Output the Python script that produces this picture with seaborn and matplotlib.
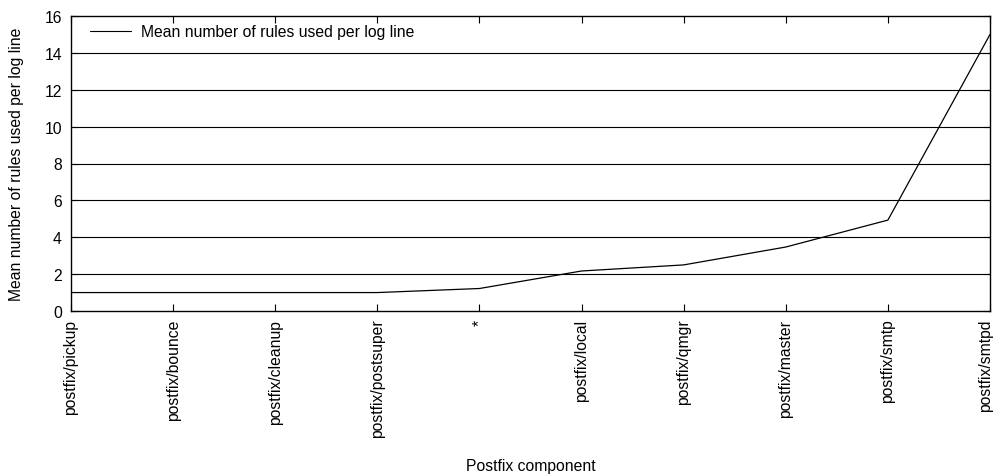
import matplotlib
matplotlib.use("Agg")
import matplotlib.pyplot as plt
import seaborn as sns
import pandas as pd

components = ["postfix/pickup", "postfix/bounce", "postfix/cleanup", "postfix/postsuper",
              "*", "postfix/local", "postfix/qmgr", "postfix/master", "postfix/smtp",
              "postfix/smtpd"]
mean_rules = [1.0, 1.0, 1.0, 1.0, 1.22, 2.17, 2.5, 3.47, 4.93, 15.0]
y_ticks = [0, 2, 4, 6, 8, 10, 12, 14, 16]

FS = 11.3

sns.set_theme(style="white")
plt.rcParams["font.family"] = ["Liberation Sans", "DejaVu Sans"]
plt.rcParams["font.size"] = FS
plt.rcParams["text.color"] = "black"
plt.rcParams["axes.labelcolor"] = "black"
plt.rcParams["xtick.color"] = "black"
plt.rcParams["ytick.color"] = "black"

df = pd.DataFrame({"component": components, "mean": mean_rules})
df["pos"] = range(len(df))

fig = plt.figure(figsize=(9.94, 4.77), dpi=100)
ax = fig.add_axes([71 / 994, 1 - 312 / 477, (990 - 71) / 994, (312 - 17) / 477])

sns.lineplot(data=df, x="pos", y="mean", ax=ax, color="black", linewidth=0.9,
             label="Mean number of rules used per log line", sort=False)

ax.set_xlim(0, len(components) - 1)
ax.set_ylim(0, 16)
ax.set_yticks(y_ticks)
ax.set_xticks(df["pos"])
# last label is drawn separately, nudged left so it stays inside the canvas
ax.set_xticklabels(components[:-1] + [""], rotation=90, ha="center", va="top")
ax.annotate(components[-1], xy=(len(components) - 1, 0),
            xycoords=("data", "axes fraction"), xytext=(-3, -5.5),
            textcoords="offset points", rotation=90, ha="center", va="top",
            fontsize=FS, color="black", annotation_clip=False)

for y in y_ticks[1:-1]:
    ax.axhline(y, color="black", linewidth=0.8, zorder=0)

for s in ax.spines.values():
    s.set_color("black")
    s.set_linewidth(1.0)

ax.tick_params(axis="x", direction="in", length=5, width=0.8, top=True, bottom=True,
               pad=5.5, labelsize=FS, colors="black")
ax.tick_params(axis="y", direction="in", length=5, width=0.8, left=True, right=True,
               pad=6.5, labelsize=FS, colors="black")

ax.set_xlabel("Postfix component", fontsize=FS, color="black")
ax.xaxis.set_label_coords(0.5, -(467 - 312) / 295, transform=ax.transAxes)
ax.xaxis.label.set_va("center")
ax.set_ylabel("Mean number of rules used per log line", fontsize=FS, color="black")
ax.yaxis.set_label_coords(-(71 - 17) / 919, 0.5, transform=ax.transAxes)
ax.yaxis.label.set_va("center")

leg = ax.legend(loc="center left", frameon=False, fontsize=FS, handlelength=2.6,
                handletextpad=0.64, borderpad=0, borderaxespad=0,
                bbox_to_anchor=((90 - 71) / 919, 1 - (33 - 17) / 295))
for h in leg.get_lines():
    h.set_linewidth(0.8)
for t in leg.get_texts():
    t.set_color("black")

fig.savefig("out.png", dpi=100, facecolor="white")
